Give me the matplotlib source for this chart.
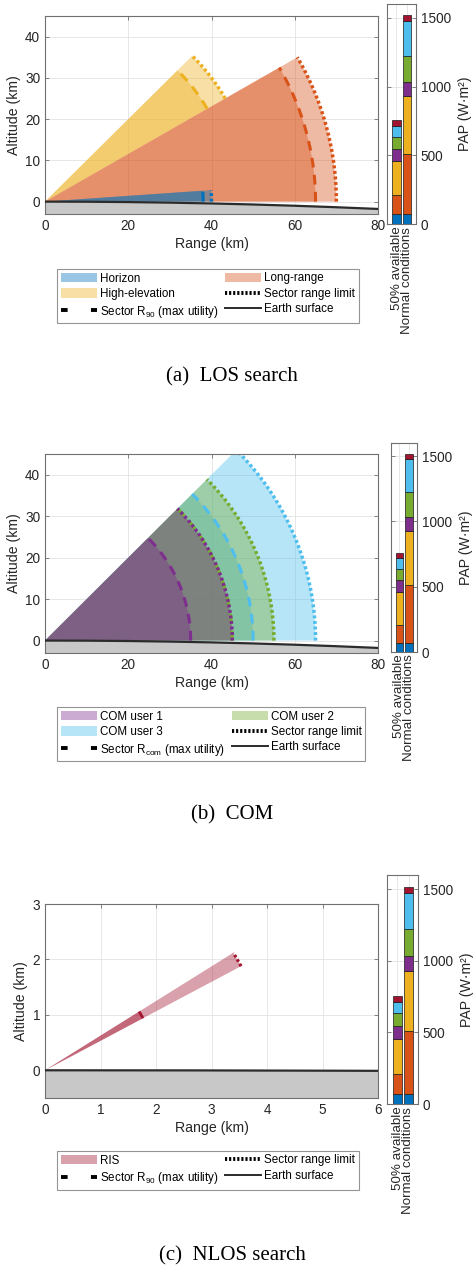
import numpy as np
import matplotlib
matplotlib.use("Agg")
import matplotlib.pyplot as plt
import matplotlib.transforms as mtransforms
from matplotlib.patches import Patch
from matplotlib.lines import Line2D

plt.rcParams['font.family'] = ['Liberation Sans', 'DejaVu Sans']
plt.rcParams['mathtext.fontset'] = 'custom'
plt.rcParams['mathtext.rm'] = 'Liberation Sans'
plt.rcParams['mathtext.it'] = 'Liberation Sans'

# ---------------- data ----------------
# colours (MATLAB default order)
C_BLUE, C_ORANGE, C_YELLOW = '#0072BD', '#D95319', '#EDB120'
C_PURPLE, C_GREEN, C_CYAN, C_RED = '#7E2F8E', '#77AC30', '#4DBEEE', '#A2142F'

# (a) LOS search sectors: drawn in this order
los_names = ['High-elevation', 'Long-range', 'Horizon']
los_el_lo = [30, 0, 0]          # deg
los_el_hi = [45, 30, 4]         # deg
los_r90 = [45, 65, 38]          # km
los_rmax = [50, 70, 40]         # km
los_colors = [C_YELLOW, C_ORANGE, C_BLUE]

# (b) COM sectors: drawn in this order
com_names = ['COM user 3', 'COM user 2', 'COM user 1']
com_el_lo = [0, 0, 0]
com_el_hi = [45, 45, 45]
com_rcom = [50, 45, 35]
com_rmax = [65, 55, 45]
com_colors = [C_CYAN, C_GREEN, C_PURPLE]

# (c) NLOS search sector
nlos_names = ['RIS']
nlos_el_lo = [28]
nlos_el_hi = [32]
nlos_r90 = [2.0]
nlos_rmax = [4.0]
nlos_colors = [C_RED]

# earth curvature radius used for the drawn surface (km)
earth_r = 1800.0

# PAP stacked bars
bar_cats = ['50% available', 'Normal conditions']
bar_colors = [C_BLUE, C_ORANGE, C_YELLOW, C_PURPLE, C_GREEN, C_CYAN, C_RED]
seg_avail = [70, 138, 248, 92, 87, 81, 42]
seg_normal = [70, 440, 420, 105, 190, 249, 44]
pap_ticks = [0, 500, 1000, 1500]

captions = ['(a)\u2002LOS search', '(b)\u2002COM', '(c)\u2002NLOS search']

# ---------------- figure ----------------
W, H = 474, 1271
fig = plt.figure(figsize=(W / 100, H / 100), dpi=100)


def ax_px(left, right, top, bottom):
    return fig.add_axes([left / W, 1 - bottom / H, (right - left) / W, (bottom - top) / H])


TICK_C = '#262626'
FRAME_C = '#707070'
FS = 9.8
FS_LAB = 10.2


def style(ax):
    for s in ax.spines.values():
        s.set_color(FRAME_C)
        s.set_linewidth(0.8)
    ax.tick_params(direction='in', length=3, width=0.6, colors=FRAME_C,
                   labelcolor=TICK_C, labelsize=FS)
    ax.grid(True, color='#e3e3e3', linewidth=0.6)
    ax.set_axisbelow(True)


def arc(r, lo, hi, n=200):
    t = np.radians(np.linspace(lo, hi, n))
    return r * np.cos(t), r * np.sin(t)


def draw_sectors(ax, lo_l, hi_l, r1_l, r2_l, cols, lw=2.2):
    for lo, hi, r1, r2, c in zip(lo_l, hi_l, r1_l, r2_l, cols):
        for r in (r2, r1):
            x, y = arc(r, lo, hi)
            ax.fill(np.r_[0, x, 0], np.r_[0, y, 0], color=c, alpha=0.4, lw=0)
    for lo, hi, r1, r2, c in zip(lo_l, hi_l, r1_l, r2_l, cols):
        x, y = arc(r1, lo, hi)
        ax.plot(x, y, color=c, lw=lw, dashes=(3.2, 2.4), dash_capstyle='butt')
        x, y = arc(r2, lo, hi)
        ax.plot(x, y, color=c, lw=lw + 0.3, dashes=(0.85, 0.75), dash_capstyle='butt')


def draw_earth(ax, xmax, ybot):
    x = np.linspace(0, xmax, 300)
    y = -x ** 2 / (2 * earth_r)
    ax.fill_between(x, y, ybot, color='#c8c8c8', lw=0, zorder=1.5)
    ax.plot(x, y, color='#2b2b2b', lw=1.6, zorder=3)


def draw_bar(ax):
    style(ax)
    xs = np.array([1, 2])
    bottom = np.zeros(2)
    for i, c in enumerate(bar_colors):
        v = np.array([seg_avail[i], seg_normal[i]], dtype=float)
        ax.bar(xs, v, bottom=bottom, width=0.8, color=c, edgecolor='#1a1a1a',
               linewidth=0.5, zorder=2)
        bottom += v
    ax.set_xlim(0.12, 2.82)
    ax.set_ylim(0, 1600)
    ax.set_yticks(pap_ticks)
    ax.yaxis.tick_right()
    ax.yaxis.set_label_position('right')
    ax.tick_params(axis='y', left=True, right=True)
    ax.set_xticks(xs)
    ax.set_xticklabels([])
    ax.tick_params(axis='x', length=0)
    # category labels as one rotated two-line text (one line per bar)
    tr = mtransforms.blended_transform_factory(ax.transData, ax.transAxes)
    ax.text(xs.mean(), -0.012, '\n'.join(bar_cats), transform=tr, rotation=90,
            ha='center', va='top', multialignment='right', fontsize=9.6,
            color=TICK_C, linespacing=0.78)
    ax.set_ylabel('PAP (W·m²)', fontsize=FS_LAB, color=TICK_C, labelpad=5)


def main_axes(ax, xlim, ylim, xticks, yticks):
    style(ax)
    ax.set_xlim(*xlim)
    ax.set_ylim(*ylim)
    ax.set_xticks(xticks)
    ax.set_yticks(yticks)
    ax.tick_params(top=True, right=True)
    ax.set_xlabel('Range (km)', fontsize=FS_LAB, color=TICK_C, labelpad=3)
    ax.set_ylabel('Altitude (km)', fontsize=FS_LAB, color=TICK_C, labelpad=3)


def legend(ax, handles, labels, top_px, ncol=2):
    lg = ax.legend(handles, labels, ncol=ncol, loc='upper left',
                   bbox_to_anchor=(57 / W, 1 - top_px / H),
                   bbox_transform=fig.transFigure,
                   fontsize=8.4, frameon=True, fancybox=False, edgecolor='#7a7a7a',
                   handlelength=3.1, handleheight=0.85, handletextpad=0.25,
                   labelspacing=0.3, borderpad=0.3, columnspacing=0.6,
                   borderaxespad=0)
    lg.get_frame().set_linewidth(0.8)
    return lg


dash_h = Line2D([], [], color='black', lw=2.8, dashes=(1.7, 6.0), dash_capstyle='butt')
dot_h = Line2D([], [], color='black', lw=2.8, dashes=(0.55, 0.5), dash_capstyle='butt')
earth_h = Line2D([], [], color='#2b2b2b', lw=1.4)


def patch(c):
    return Patch(facecolor=c, alpha=0.4, edgecolor='none')


def caption(txt, y_px):
    fig.text(232 / W, 1 - y_px / H, txt, ha='center', va='center',
             family='Liberation Serif', fontsize=15)


# ---------- (a) ----------
ax = ax_px(45, 378, 16, 214)
main_axes(ax, (0, 80), (-3, 45), [0, 20, 40, 60, 80], [0, 10, 20, 30, 40])
draw_earth(ax, 80, -3)
draw_sectors(ax, los_el_lo, los_el_hi, los_r90, los_rmax, los_colors)
legend(ax, [patch(C_BLUE), patch(C_YELLOW), dash_h, patch(C_ORANGE), dot_h, earth_h],
       ['Horizon', 'High-elevation', 'Sector R$_{90}$ (max utility)',
        'Long-range', 'Sector range limit', 'Earth surface'], 269)
bx = ax_px(387, 416, 4, 224)
draw_bar(bx)
caption(captions[0], 377)

# ---------- (b) ----------
ax = ax_px(45, 378, 454, 653)
main_axes(ax, (0, 80), (-3, 45), [0, 20, 40, 60, 80], [0, 10, 20, 30, 40])
draw_earth(ax, 80, -3)
draw_sectors(ax, com_el_lo, com_el_hi, com_rcom, com_rmax, com_colors)
legend(ax, [patch(C_PURPLE), patch(C_CYAN), dash_h, patch(C_GREEN), dot_h, earth_h],
       ['COM user 1', 'COM user 3', 'Sector R$_{\\mathrm{com}}$ (max utility)',
        'COM user 2', 'Sector range limit', 'Earth surface'], 707)
bx = ax_px(391, 417, 443, 652)
draw_bar(bx)
caption(captions[1], 815)

# ---------- (c) ----------
ax = ax_px(45, 378, 904, 1098)
main_axes(ax, (0, 6), (-0.5, 3), [0, 1, 2, 3, 4, 5, 6], [0, 1, 2, 3])
draw_earth(ax, 6, -0.5)
draw_sectors(ax, nlos_el_lo, nlos_el_hi, nlos_r90, nlos_rmax, nlos_colors, lw=2.0)
legend(ax, [patch(C_RED), dash_h, dot_h, earth_h],
       ['RIS', 'Sector R$_{90}$ (max utility)', 'Sector range limit', 'Earth surface'], 1151)
bx = ax_px(387, 418, 875, 1104)
draw_bar(bx)
caption(captions[2], 1256)

fig.savefig('out.png', dpi=100)
